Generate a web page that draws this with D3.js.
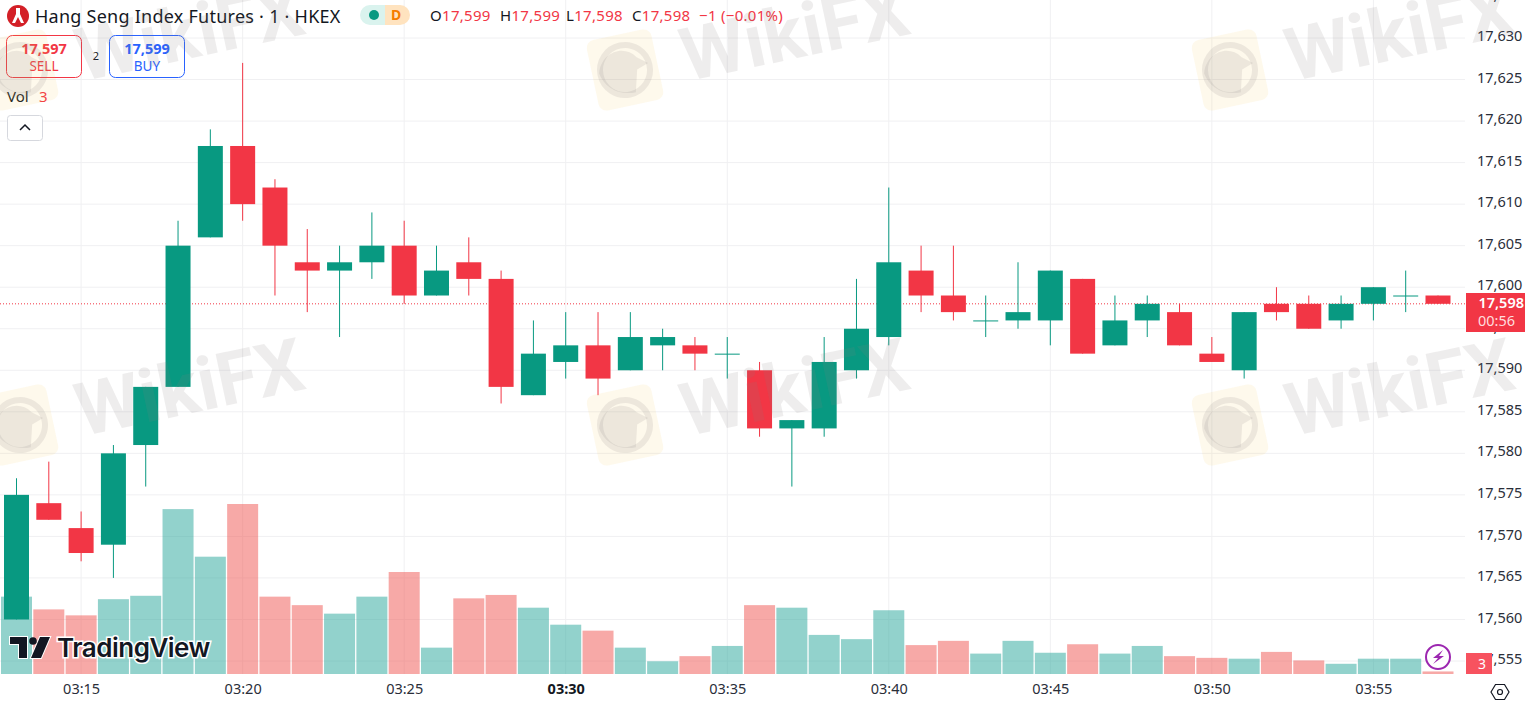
<!DOCTYPE html>
<html>
<head>
<meta charset="utf-8">
<script src="https://d3js.org/d3.v7.min.js"></script>
<style>
html, body { margin: 0; padding: 0; background: #fff; overflow: hidden; }
svg { display: block; }
text { font-family: "Noto Sans", sans-serif; }
.axis path, .axis line { display: none; }
.axis text { font-size: 14.5px; fill: #2a2e39; font-family: "Noto Sans", sans-serif; }
.legend { font-size: 15px; }
</style>
</head>
<body>
<svg width="1525" height="703"></svg>
<script>
var times = ["03:13","03:14","03:15","03:16","03:17","03:18","03:19","03:20","03:21","03:22","03:23","03:24","03:25","03:26","03:27","03:28","03:29","03:30","03:31","03:32","03:33","03:34","03:35","03:36","03:37","03:38","03:39","03:40","03:41","03:42","03:43","03:44","03:45","03:46","03:47","03:48","03:49","03:50","03:51","03:52","03:53","03:54","03:55","03:56","03:57"];
var opens = [17560,17574,17571,17569,17581,17588,17606,17617,17612,17603,17602,17603,17605,17599,17603,17601,17587,17591,17593,17590,17593,17593,17592,17590,17583,17583,17590,17594,17602,17599,17596,17596,17596,17601,17593,17596,17597,17592,17590,17598,17598,17596,17598,17599,17599];
var highs = [17577,17579,17573,17581,17588,17608,17619,17627,17613,17607,17605,17609,17608,17605,17606,17602,17596,17597,17597,17597,17595,17594,17594,17591,17584,17594,17601,17612,17605,17605,17599,17603,17602,17601,17599,17599,17598,17594,17597,17600,17599,17599,17600,17602,17599];
var lows = [17560,17572,17567,17565,17576,17588,17606,17608,17599,17597,17594,17601,17598,17599,17599,17586,17587,17589,17587,17590,17590,17590,17589,17582,17576,17582,17589,17593,17597,17596,17594,17595,17593,17592,17593,17594,17593,17591,17589,17596,17595,17595,17596,17597,17598];
var closes = [17575,17572,17568,17580,17588,17605,17617,17610,17605,17602,17603,17605,17599,17602,17601,17588,17592,17593,17589,17594,17594,17592,17592,17583,17584,17591,17595,17603,17599,17597,17596,17597,17602,17592,17596,17598,17593,17591,17597,17597,17595,17598,17600,17599,17598];
var volumes = [91,76,69,88,92,194,138,200,91,81,71,91,120,31,89,93,78,58,51,31,15,21,33,81,78,46,41,75,34,39,24,39,25,35,24,33,21,19,18,26,16,12,18,18,3];
var priceTicks = [17555,17560,17565,17570,17575,17580,17585,17590,17595,17600,17605,17610,17615,17620,17625,17630,17635];
var timeTicks = ["03:15","03:20","03:25","03:30","03:35","03:40","03:45","03:50","03:55"];
var lastClose = 17598;

var UP = "#089981", DOWN = "#f23645", GRID = "#f0f0f2";

var svg = d3.select("svg");
var plotW = 1465, plotB = 674;

var x = d3.scalePoint().domain(times).range([16.5, 1438]);
var y = d3.scaleLinear().domain([17555, 17630]).range([661, 38]);
var v = d3.scaleLinear().domain([0, 200]).range([plotB, 504]);
var color = function(i) { return closes[i] >= opens[i] ? UP : DOWN; };
var idx = d3.range(times.length);

// grid
svg.append("g").selectAll("line").data(priceTicks).join("line")
  .attr("x1", 0).attr("x2", plotW).attr("y1", y).attr("y2", y).attr("stroke", GRID);
svg.append("g").selectAll("line").data(timeTicks).join("line")
  .attr("x1", x).attr("x2", x).attr("y1", 0).attr("y2", plotB).attr("stroke", GRID);

// volume
svg.append("g").selectAll("rect").data(idx).join("rect")
  .attr("x", function(i) { return x(times[i]) - 15.5; })
  .attr("width", 31)
  .attr("y", function(i) { return v(volumes[i]); })
  .attr("height", function(i) { return plotB - v(volumes[i]); })
  .attr("fill", function(i) { return closes[i] >= opens[i] ? "#26a69a" : "#ef5350"; })
  .attr("fill-opacity", 0.5);

// last price line
svg.append("line").attr("x1", 0).attr("x2", plotW).attr("y1", y(lastClose)).attr("y2", y(lastClose))
  .attr("stroke", DOWN).attr("stroke-dasharray", "1 2");

// candles
var candles = svg.append("g").selectAll("g").data(idx).join("g");
candles.append("line")
  .attr("x1", function(i) { return x(times[i]); })
  .attr("x2", function(i) { return x(times[i]); })
  .attr("y1", function(i) { return y(highs[i]); })
  .attr("y2", function(i) { return y(lows[i]); })
  .attr("stroke", color);
candles.append("rect")
  .attr("x", function(i) { return x(times[i]) - 12.5; })
  .attr("width", 25)
  .attr("y", function(i) { return y(Math.max(opens[i], closes[i])); })
  .attr("height", function(i) { return Math.max(1, Math.abs(y(opens[i]) - y(closes[i]))); })
  .attr("fill", color);

// axes
svg.append("g").attr("class", "axis").attr("transform", "translate(1469,-2)")
  .call(d3.axisRight(y).tickValues(priceTicks).tickFormat(d3.format(",")).tickSize(0).tickPadding(8));
var xAxis = svg.append("g").attr("class", "axis").attr("transform", "translate(0,680)")
  .call(d3.axisBottom(x).tickValues(timeTicks).tickSize(0).tickPadding(4));
xAxis.selectAll("text").style("font-weight", function(d) { return d == "03:30" ? 700 : 400; })
  .style("fill", function(d) { return d == "03:30" ? "#131722" : "#2a2e39"; });

// price tags
var tag = svg.append("g");
tag.append("rect").attr("x", 1466).attr("y", 293).attr("width", 59).attr("height", 39).attr("fill", DOWN);
tag.append("text").attr("x", 1524).attr("y", 308).attr("text-anchor", "end").attr("fill", "#fff")
  .style("font-size", "14.5px").style("font-weight", 600).text(d3.format(",")(lastClose));
tag.append("text").attr("x", 1515).attr("y", 326).attr("text-anchor", "end").attr("fill", "#fdd")
  .style("font-size", "14.5px").text("00:56");
tag.append("rect").attr("x", 1466).attr("y", 653).attr("width", 26).attr("height", 21).attr("fill", "#f7525f");
tag.append("text").attr("x", 1482).attr("y", 669).attr("text-anchor", "middle").attr("fill", "#fff")
  .style("font-size", "14px").text(volumes[volumes.length - 1]);

// legend
var lg = svg.append("g").attr("class", "legend");
lg.append("circle").attr("cx", 18).attr("cy", 16).attr("r", 11).attr("fill", "#d32027");
lg.append("path").attr("d", "M16 8 H20 V14 L24 23 H21 L18 17 L15 23 H12 L16 14 Z").attr("fill", "#fff");
lg.append("text").attr("x", 35).attr("y", 23).attr("fill", "#131722").style("font-size", "18px")
  .style("letter-spacing", "0.25px").text("Hang Seng Index Futures · 1 · HKEX");
lg.append("path").attr("d", "M385 5 H370 a10 10 0 0 0 0 20 H385 Z").attr("fill", "#daf3ee");
lg.append("path").attr("d", "M385 5 H400 a10 10 0 0 1 0 20 H385 Z").attr("fill", "#ffe3bf");
lg.append("circle").attr("cx", 374).attr("cy", 15).attr("r", 5).attr("fill", UP);
lg.append("text").attr("x", 396).attr("y", 20).attr("text-anchor", "middle").attr("fill", "#f57c00")
  .style("font-size", "14px").style("font-weight", 700).text("D");

var ohlcLabels = ["O", "H", "L", "C"];
var ohlcValues = ["17,599", "17,599", "17,598", "17,598"];
var ohlcX = [430, 500, 566, 632];
ohlcLabels.forEach(function(s, i) {
  var t = lg.append("text").attr("x", ohlcX[i]).attr("y", 21).style("letter-spacing", "0.3px");
  t.append("tspan").attr("fill", "#131722").text(s);
  t.append("tspan").attr("fill", DOWN).text(ohlcValues[i]);
});
lg.append("text").attr("x", 699).attr("y", 21).attr("fill", DOWN).style("letter-spacing", "0.3px").text("−1 (−0.01%)");

// sell / buy
lg.append("rect").attr("x", 6.5).attr("y", 35.5).attr("width", 75).attr("height", 42).attr("rx", 6)
  .attr("fill", "#fff").attr("fill-opacity", 0.6).attr("stroke", DOWN);
lg.append("text").attr("x", 44).attr("y", 54).attr("text-anchor", "middle").attr("fill", DOWN)
  .style("font-weight", 700).style("font-size", "14.5px").text("17,597");
lg.append("text").attr("x", 44).attr("y", 71).attr("text-anchor", "middle").attr("fill", DOWN)
  .style("font-size", "13.5px").text("SELL");
lg.append("text").attr("x", 96).attr("y", 60).attr("text-anchor", "middle").attr("fill", "#131722")
  .style("font-size", "11px").text("2");
lg.append("rect").attr("x", 109.5).attr("y", 35.5).attr("width", 75).attr("height", 42).attr("rx", 6)
  .attr("fill", "#fff").attr("fill-opacity", 0.6).attr("stroke", "#2962ff");
lg.append("text").attr("x", 147).attr("y", 54).attr("text-anchor", "middle").attr("fill", "#2962ff")
  .style("font-weight", 700).style("font-size", "14.5px").text("17,599");
lg.append("text").attr("x", 147).attr("y", 71).attr("text-anchor", "middle").attr("fill", "#2962ff")
  .style("font-size", "13.5px").text("BUY");
lg.append("text").attr("x", 7).attr("y", 102).attr("fill", "#131722").text("Vol");
lg.append("text").attr("x", 39).attr("y", 102).attr("fill", DOWN).text("3");
lg.append("rect").attr("x", 7.5).attr("y", 115.5).attr("width", 35).attr("height", 25).attr("rx", 3)
  .attr("fill", "#fff").attr("stroke", "#d6d8de");
lg.append("path").attr("d", "M20 130 L25 125 L30 130").attr("fill", "none").attr("stroke", "#131722").attr("stroke-width", 1.5);

// tradingview logo
var tv = svg.append("g");
tv.append("path").attr("d", "M10 637 H27 V658 H19 V644 H10 Z M40 637 H50 L41 658 H31 Z")
  .attr("fill", "#131722").attr("stroke", "#fff").attr("stroke-width", 2).attr("paint-order", "stroke");
tv.append("circle").attr("cx", 33).attr("cy", 641).attr("r", 3.8).attr("fill", "#131722");
tv.append("text").attr("x", 57).attr("y", 657).attr("fill", "#131722").attr("stroke", "#fff").attr("stroke-width", 3)
  .attr("paint-order", "stroke").style("font-family", "Inter").style("font-size", "26px").style("font-weight", 600)
  .style("letter-spacing", "-0.5px").text("TradingView");

// lightning + settings
svg.append("circle").attr("cx", 1438).attr("cy", 657).attr("r", 12).attr("fill", "#fff").attr("fill-opacity", 0.7)
  .attr("stroke", "#9c27b0").attr("stroke-width", 2);
svg.append("path").attr("d", "M1443 650 L1433 658 L1438 658 L1433 664 L1444 656 L1439 656 Z").attr("fill", "#9c27b0");
svg.append("path").attr("d", "M1491 692 L1495.5 684.5 L1504.5 684.5 L1509 692 L1504.5 699.5 L1495.5 699.5 Z")
  .attr("fill", "none").attr("stroke", "#131722").attr("stroke-width", 1.2);
svg.append("circle").attr("cx", 1500).attr("cy", 692).attr("r", 2.5).attr("fill", "none").attr("stroke", "#131722").attr("stroke-width", 1.2);

// wikifx watermark, sits on top of everything
var marks = [];
[20, 625, 1230].forEach(function(mx) { [70, 425].forEach(function(my) { marks.push([mx, my]); }); });
var wm = svg.append("g").attr("pointer-events", "none").selectAll("g").data(marks).join("g")
  .attr("transform", function(d) { return "translate(" + d[0] + "," + d[1] + ") rotate(-12)"; });
wm.append("rect").attr("x", -33).attr("y", -36).attr("width", 66).attr("height", 72).attr("rx", 8)
  .attr("fill", "#f5c542").attr("fill-opacity", 0.1);
wm.append("circle").attr("r", 25).attr("fill", "none").attr("stroke", "#8a8080").attr("stroke-opacity", 0.14).attr("stroke-width", 6);
wm.append("path").attr("d", "M-26 -2 C-20 -22 4 -26 14 -10 L24 -2 L12 2 L6 24 C-12 24 -24 12 -26 -2 Z")
  .attr("fill", "#8a8080").attr("fill-opacity", 0.14);
wm.append("text").attr("x", 58).attr("y", 24).attr("fill", "#8a8080").attr("fill-opacity", 0.14)
  .style("font-family", "Roboto").style("font-size", "74px").style("font-weight", 700).text("WikiFX");
</script>
</body>
</html>
